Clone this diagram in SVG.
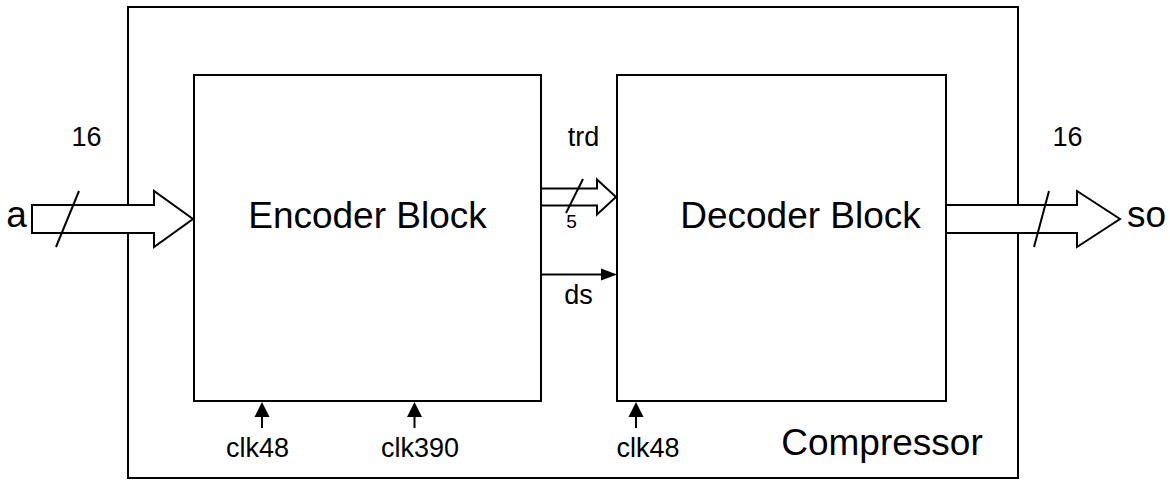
<svg xmlns="http://www.w3.org/2000/svg" width="1170" height="480" viewBox="0 0 1170 480">
<style>
.box{fill:#fff;stroke:#000;stroke-width:2}
.bus{fill:#fff;stroke:#000;stroke-width:2;stroke-linejoin:miter}
.ln{stroke:#000;stroke-width:2;fill:none}
.hd{fill:#000;stroke:none}
text{font-family:"Liberation Sans",Arial,sans-serif;fill:#000;text-anchor:middle}
.big{font-size:37px}
.sm{font-size:27px}
.xs{font-size:19px}
</style>
<rect width="1170" height="480" fill="#fff"/>
<g id="compressor">
<rect class="box" x="128" y="7" width="890" height="471"/>
<text class="big" x="882" y="455">Compressor</text>
</g>
<g id="encoder">
<rect class="box" x="194" y="75" width="347" height="326"/>
<text class="big" x="367.5" y="228">Encoder Block</text>
</g>
<g id="decoder">
<rect class="box" x="617" y="75" width="329" height="326"/>
<text class="big" x="800.5" y="228">Decoder Block</text>
</g>
<g id="connectors">
<polygon class="bus" points="32,205 154,205 154,191 193,219 154,247 154,233 32,233"/>
<line class="ln" x1="56" y1="247" x2="79" y2="191"/>
<polygon class="bus" points="541,188.5 597,188.5 597,179.5 616,197 597,214.5 597,205.5 541,205.5"/>
<line class="ln" x1="566" y1="213" x2="583" y2="179"/>
<line class="ln" x1="541" y1="274.5" x2="602" y2="274.5"/>
<polygon class="hd" points="601,268.5 617,274.5 601,280.5"/>
<polygon class="bus" points="946,205 1077,205 1077,191 1120,219 1077,247 1077,233 946,233"/>
<line class="ln" x1="1034" y1="247" x2="1049" y2="191"/>
<line class="ln" x1="262" y1="428" x2="262" y2="414"/>
<polygon class="hd" points="254.5,417 262,402 269.5,417"/>
<line class="ln" x1="414.5" y1="428" x2="414.5" y2="414"/>
<polygon class="hd" points="407,417 414.5,402 422,417"/>
<line class="ln" x1="636" y1="428" x2="636" y2="414"/>
<polygon class="hd" points="628.5,417 636,402 643.5,417"/>
</g>
<g id="labels">
<text class="big" x="16.5" y="227">a</text>
<text class="sm" x="86.5" y="146">16</text>
<text class="big" x="1146.5" y="227">so</text>
<text class="sm" x="1067.5" y="146">16</text>
<text class="sm" x="583.5" y="146">trd</text>
<text class="xs" x="571.5" y="228">5</text>
<text class="sm" x="578.5" y="304">ds</text>
<text class="sm" x="257.5" y="457">clk48</text>
<text class="sm" x="420" y="457">clk390</text>
<text class="sm" x="648" y="457">clk48</text>
</g>
</svg>
